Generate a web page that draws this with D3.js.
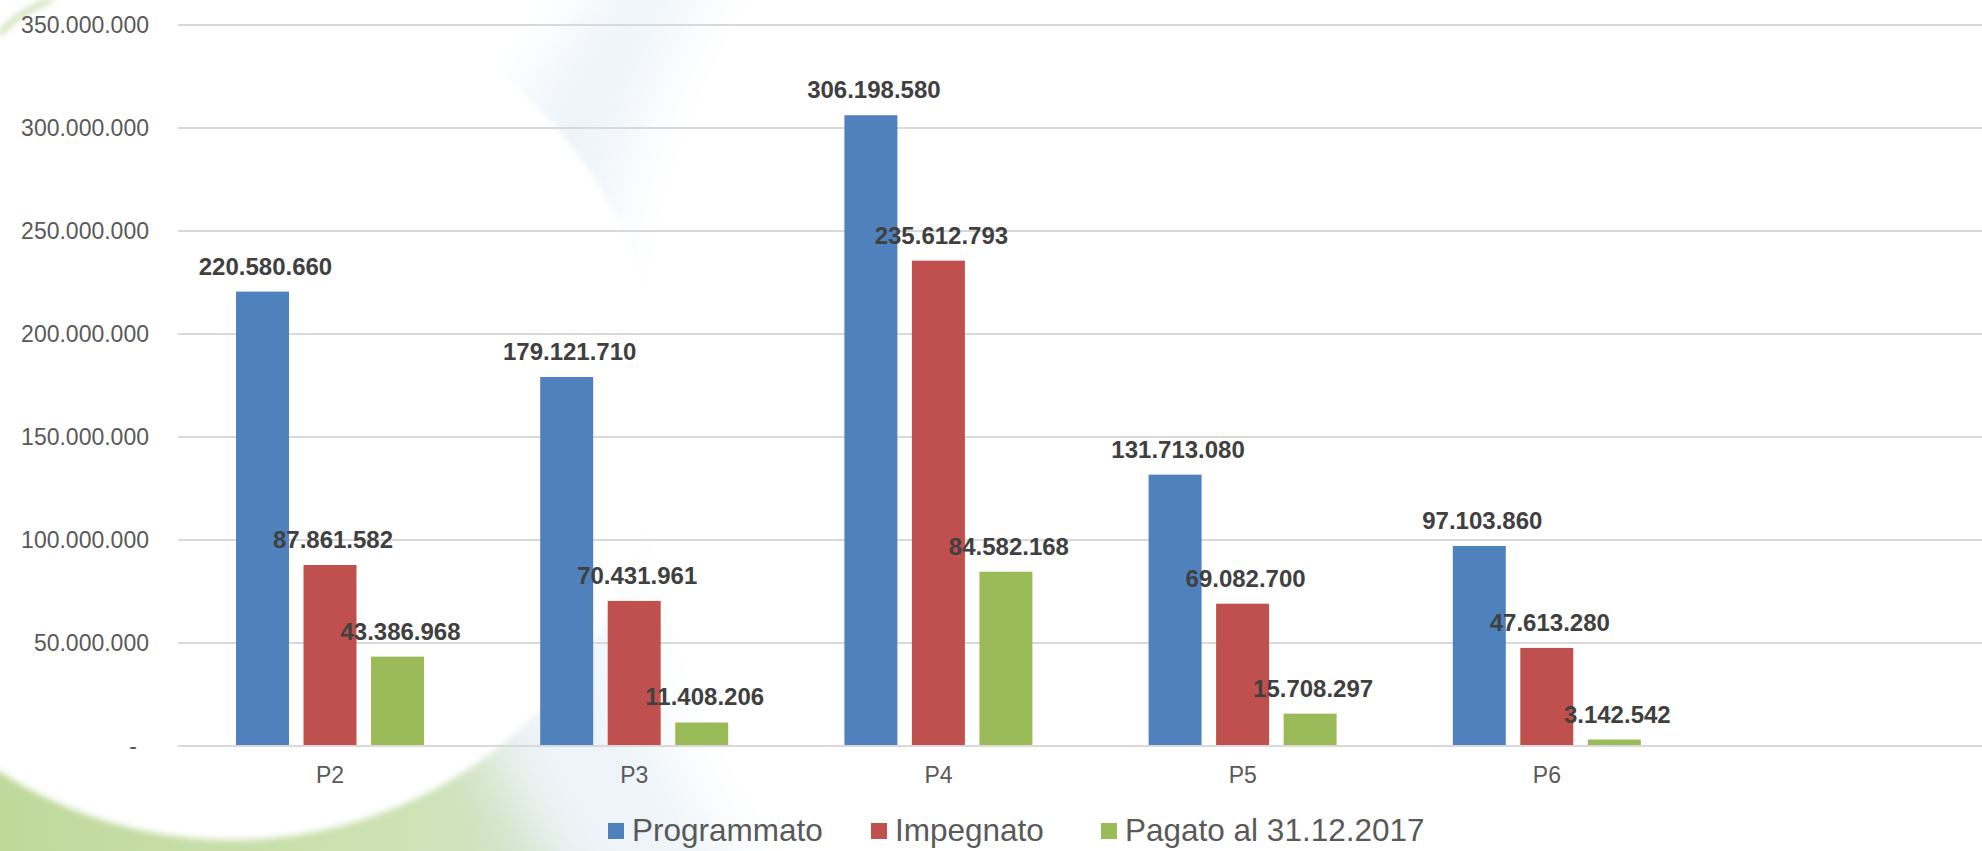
<!DOCTYPE html>
<html>
<head>
<meta charset="utf-8">
<script src="https://cdn.jsdelivr.net/npm/d3@7"></script>
<style>
  html, body { margin: 0; padding: 0; background: #fff; }
  svg { display: block; }
  text { font-family: "Liberation Sans", Arial, sans-serif; }
</style>
</head>
<body>
<div id="chart"></div>
<script>
// data
const categories = ["P2", "P3", "P4", "P5", "P6"];
const seriesNames = ["Programmato", "Impegnato", "Pagato al 31.12.2017"];
const programmato = [220580660, 179121710, 306198580, 131713080, 97103860];
const impegnato = [87861582, 70431961, 235612793, 69082700, 47613280];
const pagato = [43386968, 11408206, 84582168, 15708297, 3142542];
const yTicks = [0, 50000000, 100000000, 150000000, 200000000, 250000000, 300000000, 350000000];
const seriesColors = ["#4f81bd", "#c0504d", "#9bbb59"];

const width = 1982, height = 851;
const plotLeft = 178, plotTop = 25, plotBottom = 746;

const it = d3.formatLocale({ decimal: ",", thousands: ".", grouping: [3], currency: ["", "€"] });
const fmt = it.format(",d");

let svg = d3.select("#chart")
  .append("svg")
  .attr("width", width)
  .attr("height", height);

// ---- background decoration (slide template swirl) ----
let defs = svg.append("defs");
let bgGrad = defs.append("linearGradient").attr("id", "bgGrad")
  .attr("x1", 0).attr("x2", 1).attr("y1", 0).attr("y2", 0);
[[0, "#bfd99b"], [0.2, "#cde2b3"], [0.36, "#d8e7e6"], [0.5, "#e2edf5"], [0.62, "#f4f8fb"], [0.72, "#ffffff"]]
  .forEach(([o, c]) => bgGrad.append("stop").attr("offset", o).attr("stop-color", c));

let blur = defs.append("filter").attr("id", "soft").attr("x", "-20%").attr("y", "-20%").attr("width", "140%").attr("height", "140%");
blur.append("feGaussianBlur").attr("stdDeviation", 3);
let blurBig = defs.append("filter").attr("id", "softBig").attr("x", "-20%").attr("y", "-20%").attr("width", "140%").attr("height", "140%");
blurBig.append("feGaussianBlur").attr("stdDeviation", 30);

let bg = svg.append("g").attr("id", "background");
bg.append("rect").attr("width", width).attr("height", height).attr("fill", "#fff");
bg.append("rect")
  .attr("x", 0).attr("y", 640).attr("width", width).attr("height", height - 640)
  .attr("fill", "url(#bgGrad)");
// faint blue crescent in the middle
bg.append("ellipse")
  .attr("cx", 1150).attr("cy", 460).attr("rx", 720).attr("ry", 720)
  .attr("fill", "#eef4f9").attr("filter", "url(#softBig)");
bg.append("ellipse")
  .attr("cx", 1320).attr("cy", 400).attr("rx", 730).attr("ry", 780)
  .attr("fill", "#fff").attr("filter", "url(#softBig)");
// big white circle on the left
bg.append("circle")
  .attr("cx", 232).attr("cy", 410).attr("r", 430)
  .attr("fill", "#fff").attr("filter", "url(#soft)");
// thin green arc at the top-left corner
bg.append("path")
  .attr("d", "M0,34 Q18,12 52,0")
  .attr("fill", "none").attr("stroke", "#c7dcaa").attr("stroke-width", 5)
  .attr("filter", "url(#soft)");

// ---- scales ----
let slots = categories.concat([""]); // empty slot after P6
let x0 = d3.scaleBand()
  .domain(d3.range(slots.length))
  .range([plotLeft, plotLeft + 304.2 * slots.length])
  .paddingInner(0).paddingOuter(0);

let x1 = d3.scaleBand()
  .domain(d3.range(seriesNames.length))
  .range([58, 246])
  .paddingInner(0.215).paddingOuter(0);

let y = d3.scaleLinear()
  .domain([0, 350000000])
  .range([plotBottom, plotTop]);

// ---- gridlines + y axis ----
let grid = svg.append("g").attr("id", "grid");
grid.selectAll("line")
  .data(yTicks)
  .enter().append("line")
  .attr("x1", plotLeft).attr("x2", width)
  .attr("y1", (d) => y(d)).attr("y2", (d) => y(d))
  .attr("stroke", "#d9d9d9").attr("stroke-width", 2);

let yAxis = svg.append("g").attr("id", "y-axis");
yAxis.selectAll("text")
  .data(yTicks)
  .enter().append("text")
  .attr("x", (d) => d === 0 ? 137 : 149)
  .attr("y", (d) => y(d))
  .attr("dy", "0.36em")
  .attr("text-anchor", "end")
  .attr("font-size", 23)
  .attr("fill", "#595959")
  .text((d) => d === 0 ? "-" : fmt(d));

// ---- bars ----
let data = categories.map((c, i) => ({
  cat: c, idx: i,
  values: [programmato[i], impegnato[i], pagato[i]]
}));

let groups = svg.append("g").attr("id", "bars")
  .selectAll("g")
  .data(data)
  .enter().append("g")
  .attr("transform", (d) => `translate(${x0(d.idx)},0)`);

groups.selectAll("rect")
  .data((d) => d.values.map((v, s) => ({ v, s })))
  .enter().append("rect")
  .attr("x", (d) => x1(d.s))
  .attr("width", x1.bandwidth())
  .attr("y", (d) => y(d.v))
  .attr("height", (d) => plotBottom - y(d.v))
  .attr("fill", (d) => seriesColors[d.s]);

// data labels
groups.selectAll("text.value")
  .data((d) => d.values.map((v, s) => ({ v, s })))
  .enter().append("text")
  .attr("class", "value")
  .attr("x", (d) => x1(d.s) + x1.bandwidth() / 2 + 3)
  .attr("y", (d) => y(d.v) - 17)
  .attr("text-anchor", "middle")
  .attr("font-size", 24)
  .attr("font-weight", "bold")
  .attr("fill", "#404040")
  .text((d) => fmt(d.v));

// ---- x axis ----
let xAxis = svg.append("g").attr("id", "x-axis");
xAxis.append("line")
  .attr("x1", plotLeft).attr("x2", width)
  .attr("y1", plotBottom).attr("y2", plotBottom)
  .attr("stroke", "#d9d9d9").attr("stroke-width", 2);
xAxis.selectAll("text")
  .data(categories)
  .enter().append("text")
  .attr("x", (d, i) => x0(i) + x0.bandwidth() / 2)
  .attr("y", 783)
  .attr("text-anchor", "middle")
  .attr("font-size", 23)
  .attr("fill", "#595959")
  .text((d) => d);

// ---- legend ----
let legendX = [608, 871, 1101];
let legend = svg.append("g").attr("id", "legend");
let items = legend.selectAll("g")
  .data(seriesNames)
  .enter().append("g")
  .attr("transform", (d, i) => `translate(${legendX[i]},0)`);
items.append("rect")
  .attr("x", 0).attr("y", 823)
  .attr("width", 16).attr("height", 16)
  .attr("fill", (d, i) => seriesColors[i]);
items.append("text")
  .attr("x", 24).attr("y", 841)
  .attr("font-size", 31.5)
  .attr("fill", "#595959")
  .text((d) => d);
</script>
</body>
</html>
